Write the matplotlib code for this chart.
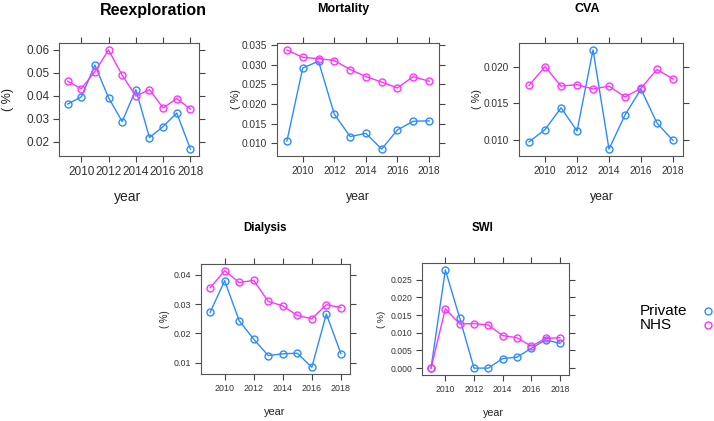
import matplotlib
matplotlib.use("Agg")
import matplotlib.pyplot as plt
from matplotlib.lines import Line2D

plt.rcParams['font.family'] = ['Liberation Sans', 'DejaVu Sans']

years = [2009, 2010, 2011, 2012, 2013, 2014, 2015, 2016, 2017, 2018]

reexp_private = [0.0364, 0.0395, 0.0534, 0.0392, 0.0288, 0.0427, 0.0218, 0.0266, 0.0325, 0.0168]
reexp_nhs = [0.0464, 0.0431, 0.0505, 0.0600, 0.0490, 0.0399, 0.0427, 0.0347, 0.0388, 0.0342]

mort_private = [0.0106, 0.0292, 0.0309, 0.0174, 0.0117, 0.0125, 0.0085, 0.0134, 0.0156, 0.0157]
mort_nhs = [0.0338, 0.0319, 0.0316, 0.0311, 0.0288, 0.0270, 0.0256, 0.0241, 0.0270, 0.0258]

cva_private = [0.0097, 0.0114, 0.0144, 0.0112, 0.0224, 0.0087, 0.0134, 0.0170, 0.0123, 0.0099]
cva_nhs = [0.0175, 0.0201, 0.0174, 0.0176, 0.0170, 0.0174, 0.0159, 0.0171, 0.0197, 0.0184]

dial_private = [0.0272, 0.0380, 0.0243, 0.0180, 0.0124, 0.0130, 0.0132, 0.0084, 0.0266, 0.0131]
dial_nhs = [0.0356, 0.0414, 0.0374, 0.0381, 0.0309, 0.0294, 0.0261, 0.0250, 0.0298, 0.0288]

swi_private = [0.0, 0.0278, 0.0142, 0.0, 0.0, 0.0027, 0.0031, 0.0056, 0.0080, 0.0070]
swi_nhs = [0.0, 0.0168, 0.0125, 0.0126, 0.0122, 0.0092, 0.0086, 0.0062, 0.0084, 0.0086]

legend_labels = ['Private', 'NHS']

col_private = '#2b8cff'
col_nhs = '#ff33ff'

fig = plt.figure(figsize=(7.14, 4.21), dpi=100)
W, H = 714.0, 421.0


def panel(box, title, title_xy, year_xy, ylab_x, private, nhs, yticks, fmt, fs, tfs):
    x0, y0, x1, y1 = box
    ax = fig.add_axes([x0 / W, 1 - y1 / H, (x1 - x0) / W, (y1 - y0) / H])
    ax.plot(years, private, color=col_private, lw=1, marker='o', ms=5,
            mfc='none', mew=1)
    ax.plot(years, nhs, color=col_nhs, lw=1, marker='o', ms=5,
            mfc='none', mew=1)
    ax.margins(0.07)
    ax.set_xticks([2010, 2012, 2014, 2016, 2018])
    ax.set_yticks(yticks)
    ax.set_yticklabels([fmt % v for v in yticks])
    ax.tick_params(direction='out', length=4, width=0.8, color='#444444',
                   labelsize=fs, labelcolor='#333333', top=True, right=True,
                   pad=3)
    for s in ax.spines.values():
        s.set_color('#555555')
        s.set_linewidth(0.8)
    fig.text(title_xy[0] / W, 1 - title_xy[1] / H, title, ha='center',
             va='center', fontsize=tfs, fontweight='bold')
    fig.text(year_xy[0] / W, 1 - year_xy[1] / H, 'year', ha='center',
             va='center', fontsize=fs + 1.5, color='#222222')
    fig.text(ylab_x / W, 1 - ((y0 + y1) / 2) / H, '( %)', ha='center',
             va='center', rotation=90, fontsize=fs + 0.5, color='#222222')
    return ax


panel((59, 43, 199, 156), 'Reexploration', (153, 10), (128, 197), 8,
      reexp_private, reexp_nhs, [0.02, 0.03, 0.04, 0.05, 0.06], '%.2f', 8.5, 11.5)
panel((277, 43, 439, 156), 'Mortality', (343, 9), (358, 197), 236,
      mort_private, mort_nhs, [0.010, 0.015, 0.020, 0.025, 0.030, 0.035], '%.3f', 7.3, 9)
panel((519, 43, 683, 156), 'CVA', (587, 9), (602, 197), 477,
      cva_private, cva_nhs, [0.010, 0.015, 0.020], '%.3f', 7.3, 9)
panel((201, 264, 350, 374), 'Dialysis', (265, 228), (275, 412), 165,
      dial_private, dial_nhs, [0.01, 0.02, 0.03, 0.04], '%.2f', 6.4, 8.3)
panel((422, 263, 569, 375), 'SWI', (482, 228), (493, 413), 382,
      swi_private, swi_nhs, [0.000, 0.005, 0.010, 0.015, 0.020, 0.025], '%.3f', 6.2, 8.3)

# legend: text on the left, open circle on the right
for i, (lab, col) in enumerate(zip(legend_labels, [col_private, col_nhs])):
    yc = 1 - (311 + 14 * i) / H
    fig.text(640 / W, yc, lab, ha='left', va='center', fontsize=11)
    fig.add_artist(Line2D([708 / W], [yc], transform=fig.transFigure,
                          ls='none', marker='o', ms=5, mfc='none', mew=1,
                          color=col))

fig.savefig('out.png', dpi=100)
